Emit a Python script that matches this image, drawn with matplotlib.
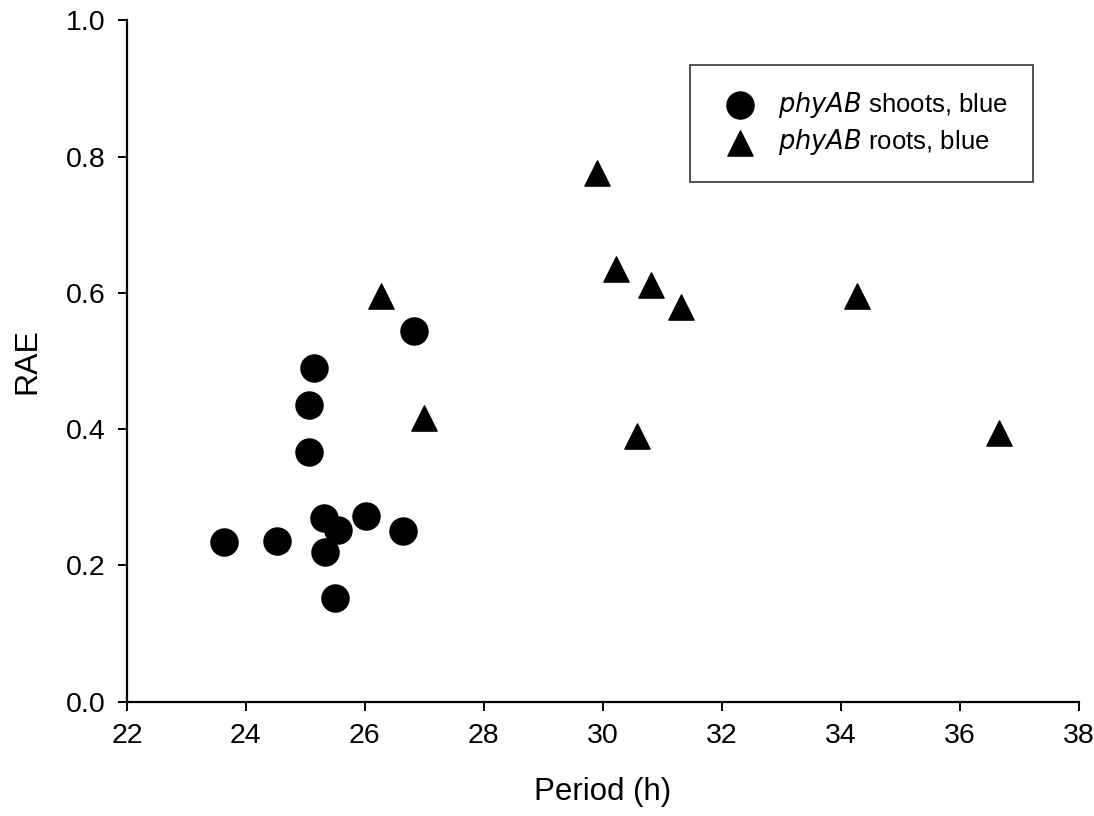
import matplotlib
matplotlib.use("Agg")
import matplotlib.pyplot as plt

plt.rcParams["font.family"] = ["Liberation Sans", "DejaVu Sans"]

# phyAB shoots, blue
shoot_period = [23.63, 24.52, 25.31, 25.55, 25.33, 26.02, 26.64, 25.50, 25.06, 25.06, 25.14, 26.82]
shoot_rae = [0.235, 0.236, 0.270, 0.252, 0.220, 0.273, 0.251, 0.152, 0.367, 0.435, 0.490, 0.544]

# phyAB roots, blue
root_period = [26.27, 26.99, 29.90, 30.22, 30.81, 31.31, 30.57, 34.27, 36.66]
root_rae = [0.595, 0.416, 0.776, 0.635, 0.611, 0.579, 0.390, 0.595, 0.394]

fig = plt.figure(figsize=(10.94, 8.16), dpi=100)
ax = fig.add_axes([0.116, 0.140, 0.870, 0.835])

ax.scatter(shoot_period, shoot_rae, s=380, marker="o", color="black",
           label=r"$\it{phyAB}$ shoots, blue", zorder=3)
ax.scatter(root_period, root_rae, s=330, marker="^", color="black",
           label=r"$\it{phyAB}$ roots, blue", zorder=3)

ax.set_xlim(22, 38)
ax.set_ylim(0, 1.0)
ax.set_xticks(range(22, 39, 2))
ax.set_yticks([0.0, 0.2, 0.4, 0.6, 0.8, 1.0])
ax.yaxis.set_major_formatter(matplotlib.ticker.FormatStrFormatter("%.1f"))
ax.tick_params(direction="out", length=6.5, width=1.4, labelsize=20.5, pad=9)

for side in ["top", "right"]:
    ax.spines[side].set_visible(False)
for side in ["left", "bottom"]:
    ax.spines[side].set_linewidth(1.6)

ax.set_xlabel("Period (h)", fontsize=22.5, labelpad=20)
ax.set_ylabel("RAE", fontsize=23, labelpad=17)

leg = ax.legend(loc="upper right", bbox_to_anchor=(0.952, 0.934), fontsize=18.5,
                frameon=True, fancybox=False, edgecolor="black",
                markerscale=1.0, handletextpad=0.5, borderpad=0.95,
                labelspacing=0.3, borderaxespad=0)
leg.get_frame().set_linewidth(1.2)

fig.savefig("out.png", dpi=100)
